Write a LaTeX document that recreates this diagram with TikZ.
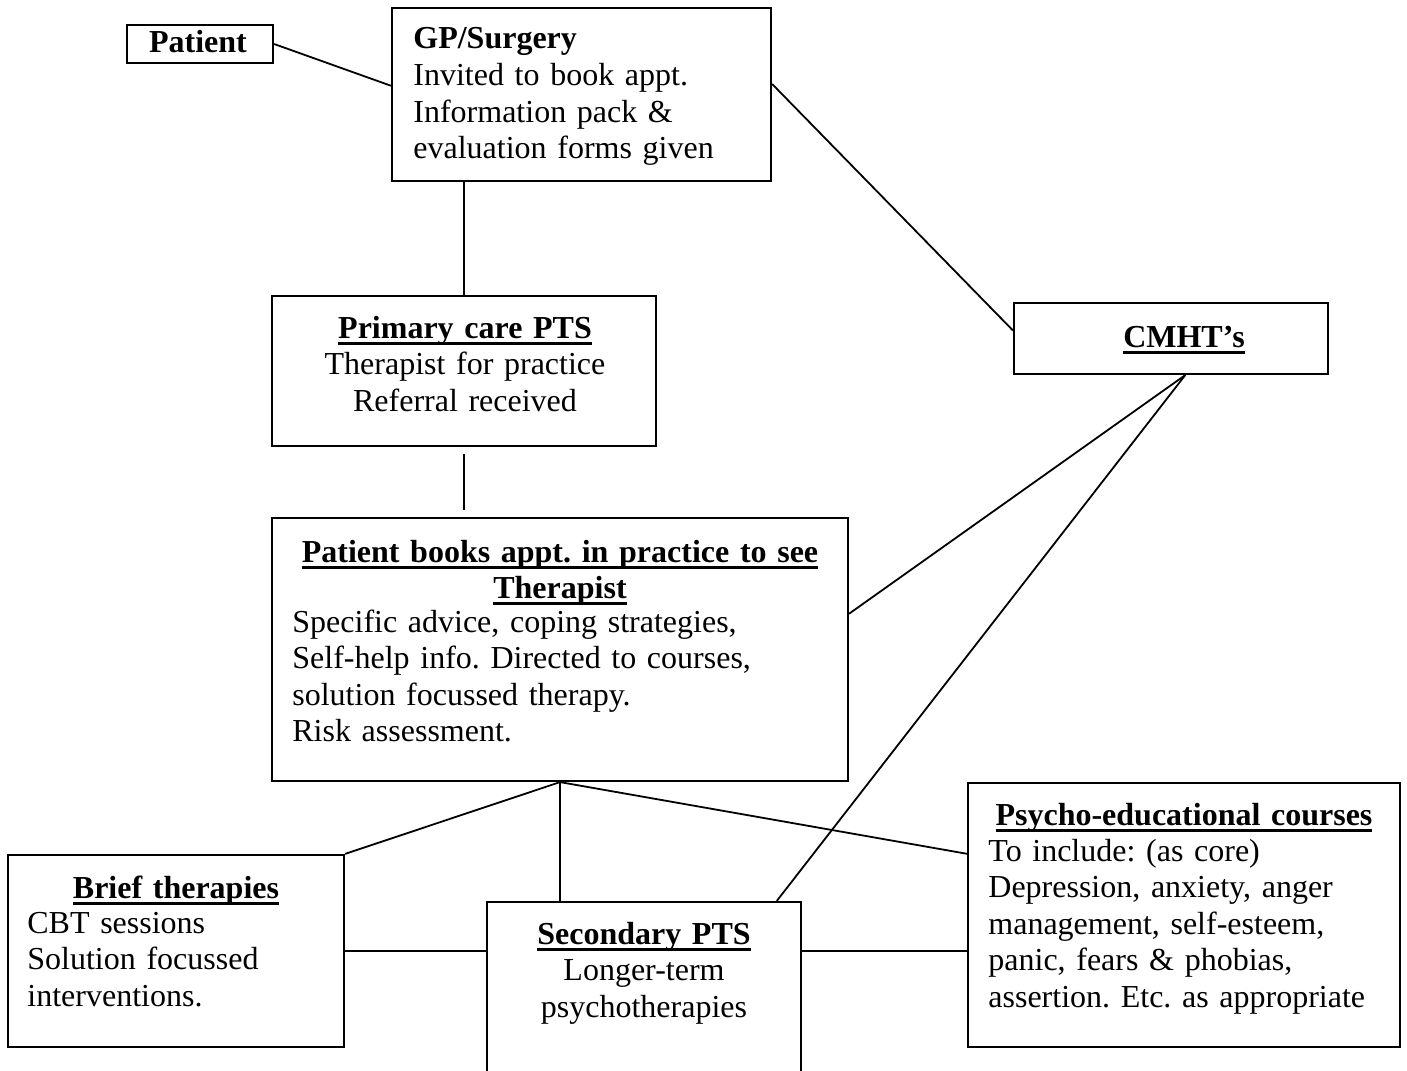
\documentclass[tikz,border=0pt]{standalone}
\usepackage{fontspec}
\setmainfont{Liberation Serif}
\usetikzlibrary{calc,fit}
\frenchspacing
\newcommand\myul[1]{\setbox0\hbox{#1}\rlap{\rule[-3.5pt]{\wd0}{1.5pt}}\box0}
\tikzset{
  box/.style={draw, line width=1.1pt, inner sep=0pt},
  conn/.style={draw, line width=0.9pt},
  txt/.style={inner sep=0pt, font=\fontsize{16}{18.3}\selectfont\frenchspacing, text width=260pt},
  ltxt/.style={txt, align=left, anchor=base west},
  ctxt/.style={txt, align=center, anchor=base},
}
\begin{document}
\begin{tikzpicture}[x=0.5pt,y=-0.5pt]
\clip (0,0) rectangle (1407,1070);
\fill[white] (0,0) rectangle (1407,1070);
% boxes
\node[box, fit={(127,25) (273,63)}] (pat) {};
\node[box, fit={(392,8) (771,181)}] (gp) {};
\node[box, fit={(272,296) (656,446)}] (prim) {};
\node[box, fit={(1014,303) (1328,374)}] (cmht) {};
\node[box, fit={(272,518) (848,781)}] (pb) {};
\node[box, fit={(8,855) (344,1047)}] (brief) {};
\node[box, fit={(487,902) (801,1100)}] (sec) {};
\node[box, fit={(968,783) (1400,1047)}] (psy) {};
% texts
\node[ctxt] (patt) at (198,53) {\textbf{Patient}};
\node[ltxt] (gpt) at (413,49) {\textbf{GP/Surgery}\\Invited to book appt.\\Information pack \&\\evaluation forms given};
\node[ctxt] (primt) at (465,338) {\textbf{\myul{Primary care PTS}}\\Therapist for practice\\Referral received};
\node[ctxt] (cmhtt) at (1184,347) {\textbf{\myul{CMHT’s}}};
\node[ctxt, text width=300pt] (pbtitle) at (560,562) {\textbf{\myul{Patient books appt. in practice to see}}\\[-0.3pt]\textbf{\myul{Therapist}}};
\node[ltxt] (pbt) at (292,632) {Specific advice, coping strategies,\\Self-help info. Directed to courses,\\solution focussed therapy.\\Risk assessment.};
\node[ctxt] (brieftitle) at (176,898) {\textbf{\myul{Brief therapies}}};
\node[ltxt] (brieft) at (27,933) {CBT sessions\\Solution focussed\\interventions.};
\node[ctxt] (sect) at (644,944) {\textbf{\myul{Secondary PTS}}\\Longer-term\\psychotherapies};
\node[ctxt] (psytitle) at (1184,825) {\textbf{\myul{Psycho-educational courses}}};
\node[ltxt] (psyt) at (988,861) {To include: (as core)\\Depression, anxiety, anger\\management, self-esteem,\\panic, fears \& phobias,\\assertion. Etc. as appropriate};
% connectors
\coordinate (gpl) at ($(gp.north west)!0.45!(gp.south west)$);
\coordinate (gpr) at ($(gp.north east)!0.44!(gp.south east)$);
\coordinate (cmhtl) at ($(cmht.north west)!0.39!(cmht.south west)$);
\coordinate (cb) at ($(cmht.south west)!0.545!(cmht.south east)$);
\coordinate (pbr) at ($(pb.north east)!0.365!(pb.south east)$);
\coordinate (secr) at ($(sec.north west)!0.92!(sec.north east)$);
\coordinate (psyl) at ($(psy.north west)!0.27!(psy.south west)$);
\path (prim.south |- pb.north) coordinate (pbtop);
\draw[conn] (pat.east) -- (gpl);
\draw[conn] (gp.south -| prim.north) -- (prim.north);
\draw[conn] (gpr) -- (cmhtl);
\draw[conn] ([yshift=-3.5pt]prim.south) -- ([yshift=3.5pt]pbtop);
\draw[conn] (cb) -- (pbr);
\draw[conn] (cb) -- (secr);
\draw[conn] (pb.south) -- (brief.north east);
\draw[conn] (pb.south) -- (pb.south |- sec.north);
\draw[conn] (pb.south) -- (psyl);
\draw[conn] (brief.east) -- (brief.east -| sec.west);
\draw[conn] (brief.east -| sec.east) -- (brief.east -| psy.west);
\end{tikzpicture}
\end{document}
